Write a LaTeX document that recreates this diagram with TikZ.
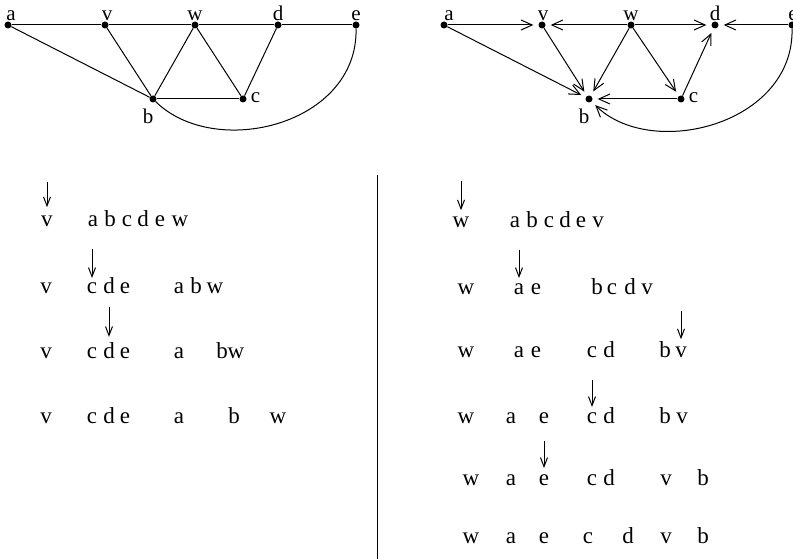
\documentclass[tikz,border=0pt]{standalone}
\usepackage{fontspec}
\setmainfont{Liberation Serif}
\usetikzlibrary{arrows.meta, calc}
\tikzset{
  vert/.style={circle, fill=black, inner sep=0pt, minimum size=7pt},
  vlbl/.style={font=\fontsize{21}{21}\selectfont, inner sep=0pt},
  edge/.style={line width=1pt},
  dedge/.style={edge, -{Straight Barb[length=11pt,width=10pt]}, shorten >=5pt},
  letter/.style={font=\fontsize{23}{23}\selectfont, inner sep=0pt, anchor=base},
  ptr/.style={line width=1pt, -{Straight Barb[length=9pt,width=7pt]}},
}

\begin{document}
\begin{tikzpicture}[x=1pt, y=-1pt, label distance=0pt]
\useasboundingbox (0,0) rectangle (793,559);

% Undirected graph
\node[vert, label={[vlbl,xshift=3pt]above:a}] (ua) at (8,25) {};
\node[vert, label={[vlbl,xshift=2pt]above:v}] (uv) at (105,25) {};
\node[vert, label={[vlbl]above:w}] (uw) at (195,25) {};
\node[vert, label={[vlbl]above:d}] (ud) at (278,25) {};
\node[vert, label={[vlbl]above:e}] (ue) at (356,25) {};
\node[vert, label={[vlbl,xshift=-5pt,yshift=-6pt]below:b}] (ub) at (153,99) {};
\node[vert, label={[vlbl,xshift=4pt,yshift=1pt]right:c}] (uc) at (243,99) {};

\draw[edge] (ua) -- (uv) -- (uw) -- (ud) -- (ue);
\draw[edge] (ua) -- (ub);
\draw[edge] (uv) -- (ub);
\draw[edge] (uw) -- (ub);
\draw[edge] (uw) -- (uc);
\draw[edge] (ud) -- (uc);
\draw[edge] (ub) -- (uc);
\draw[edge] (ub) .. controls (215,160) and (358,125) .. (ue);

% Directed graph
\node[vert, label={[vlbl,xshift=5pt]above:a}] (da) at (444,25) {};
\node[vert, label={[vlbl,xshift=1pt]above:v}] (dv) at (542,25) {};
\node[vert, label={[vlbl]above:w}] (dw) at (631,25) {};
\node[vert, label={[vlbl]above:d}] (dd) at (715,25) {};
\node[vert, label={[vlbl,xshift=1pt]above:e}] (de) at (792,25) {};
\node[vert, label={[vlbl,xshift=-5pt,yshift=-6pt]below:b}] (db) at (589,99) {};
\node[vert, label={[vlbl,xshift=4pt,yshift=1pt]right:c}] (dc) at (681,99) {};

\draw[dedge] (da) -- (dv);
\draw[dedge] (dw) -- (dv);
\draw[dedge] (dw) -- (dd);
\draw[dedge] (de) -- (dd);
\draw[dedge] (da) -- (db);
\draw[dedge] (dv) -- (db);
\draw[dedge] (dw) -- (db);
\draw[dedge] (dw) -- (dc);
\draw[dedge] (dc) -- (dd);
\draw[dedge] (dc) -- (db);
\draw[dedge] (de) .. controls (794,125) and (651,160) .. (db);

% Separator
\coordinate (septop) at (377,175);
\coordinate (sepbot) at (377,559);
\draw[edge] (septop) -- (sepbot);

% Left lists
\foreach \t/\x in {v/47, a/93, b/110, c/127, d/143, e/160, w/180}
  \node[letter] (l1\t) at (\x,226) {\t};
\foreach \t/\x in {v/46, c/92, d/109, e/125, a/179, b/196, w/215}
  \node[letter] (l2\t) at (\x,293) {\t};
\foreach \t/\x in {v/46, c/92, d/109, e/125, a/179, b/222, w/236}
  \node[letter] (l3\t) at (\x,358) {\t};
\foreach \t/\x in {v/46, c/92, d/109, e/125, a/179, b/234, w/278}
  \node[letter] (l4\t) at (\x,423) {\t};

% Right lists
\foreach \t/\x in {w/461, a/515, b/532, c/549, d/565, e/581, v/598}
  \node[letter] (r1\t) at (\x,227) {\t};
\foreach \t/\x in {w/466, a/519, e/536, b/597, c/612, d/630, v/647}
  \node[letter] (r2\t) at (\x,294) {\t};
\foreach \t/\x in {w/466, a/519, e/536, c/592, d/609, b/665, v/681}
  \node[letter] (r3\t) at (\x,357) {\t};
\foreach \t/\x in {w/466, a/511, e/544, c/592, d/609, b/665, v/682}
  \node[letter] (r4\t) at (\x,423) {\t};
\foreach \t/\x in {w/471, a/511, e/544, c/592, d/609, v/666, b/703}
  \node[letter] (r5\t) at (\x,485) {\t};
\foreach \t/\x in {w/471, a/511, e/544, c/588, d/628, v/666, b/703}
  \node[letter] (r6\t) at (\x,543) {\t};

% Pointers
\draw[ptr] ([yshift=33pt]l1v.north) -- ([yshift=8pt]l1v.north);
\draw[ptr] ([yshift=33pt]l2c.north) -- ([yshift=4pt]l2c.north);
\draw[ptr] ([yshift=35pt]l3d.north) -- ([yshift=5pt]l3d.north);
\draw[ptr] ([yshift=35pt]r1w.north) -- ([yshift=6pt]r1w.north);
\draw[ptr] ([yshift=33pt]r2a.north) -- ([yshift=5pt]r2a.north);
\draw[ptr] ([yshift=35pt]r3v.north) -- ([yshift=7pt]r3v.north);
\draw[ptr] ([yshift=32pt]r4c.north) -- ([yshift=5pt]r4c.north);
\draw[ptr] ([yshift=33pt]r5e.north) -- ([yshift=6pt]r5e.north);

\end{tikzpicture}
\end{document}
